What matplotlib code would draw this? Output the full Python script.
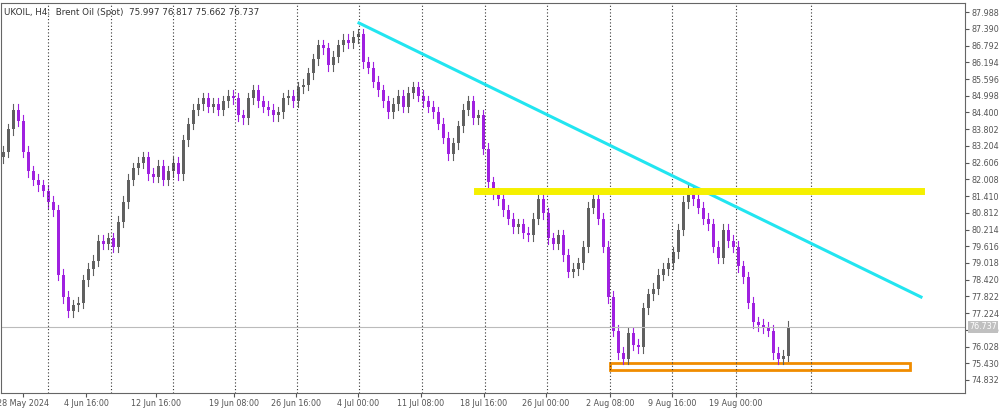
import matplotlib
matplotlib.use("Agg")
import matplotlib.pyplot as plt
from matplotlib.patches import Rectangle

closes = [83.0,83.8,84.5,84.1,83.0,82.3,82.0,81.8,81.6,81.2,80.9,78.6,77.8,77.3,77.5,77.6,78.4,78.8,79.1,79.8,
79.7,79.9,79.6,80.5,81.2,82.0,82.4,82.6,82.8,82.2,82.1,82.5,82.0,82.3,82.6,82.2,83.4,84.0,84.5,84.7,
84.9,84.6,84.7,84.5,84.8,85.0,84.9,84.3,84.2,84.9,85.2,84.8,84.6,84.5,84.3,84.4,84.9,85.0,84.8,85.3,
85.4,85.8,86.3,86.8,86.7,86.1,86.4,86.8,87.0,86.9,87.1,87.2,86.2,86.0,85.5,85.2,84.8,84.4,84.7,85.0,
84.6,85.1,85.3,85.0,84.8,84.6,84.4,84.0,83.5,82.9,83.3,83.9,84.5,84.8,84.2,84.3,83.1,81.9,81.5,81.3,
80.9,80.6,80.3,80.4,80.1,80.0,80.6,81.3,80.8,79.9,79.7,80.0,79.3,78.7,78.8,79.0,79.6,81.0,81.3,80.6,
79.6,77.8,76.6,75.8,75.6,76.5,76.1,76.0,77.4,77.9,78.1,78.6,78.8,79.0,79.4,80.2,81.2,81.6,81.3,81.0,
80.6,80.4,79.6,79.2,80.2,79.8,79.6,78.9,78.5,77.6,76.9,76.8,76.7,76.6,75.8,75.6,75.7,76.737]
first_open = 82.8
yticks = [74.832,75.430,76.028,76.626,77.224,77.822,78.420,79.018,79.616,80.214,80.812,81.410,82.008,82.606,
          83.204,83.802,84.400,84.998,85.596,86.194,86.792,87.390,87.988]
xlabels = ["28 May 2024","4 Jun 16:00","12 Jun 16:00","19 Jun 08:00","26 Jun 16:00","4 Jul 00:00",
           "11 Jul 08:00","18 Jul 16:00","26 Jul 00:00","2 Aug 08:00","9 Aug 16:00","19 Aug 00:00"]
xlabel_pos = [22,85,155,233,295,357,420,483,545,609,671,735]
grid_pos = [47,110,172,234,296,358,421,484,546,609,671,735,810]
last_price = 76.737

fig = plt.figure(figsize=(10,4.08), dpi=100)
ax = fig.add_axes([0.001,0.037,0.964,0.956])
ax.set_xlim(0,964)
ax.set_ylim(74.37,88.32)
opens = [first_open]+closes[:-1]
for i,(o,c) in enumerate(zip(opens,closes)):
    x = 2 + i*5
    col = '#606060' if c>=o else '#a020e0'
    hi = max(o,c)+0.2; lo = min(o,c)-0.2
    ax.plot([x,x],[lo,hi],color=col,lw=0.8)
    ax.add_patch(Rectangle((x-1.5,min(o,c)),3,max(abs(c-o),0.03),color=col,lw=0))
for g in grid_pos:
    ax.axvline(g,color='#333333',lw=0.8,ls=(0,(1,2)))
ax.axhline(last_price,color='#bbbbbb',lw=0.8)
ax.plot([358,920],[87.6,77.8],color='#22e5f0',lw=2.2)
ax.plot([476,920],[81.59,81.59],color='#f5f000',lw=5)
ax.add_patch(Rectangle((609,75.19),300,0.25,fill=False,ec='#f08c00',lw=2))
ax.yaxis.tick_right()
ax.set_yticks(yticks)
ax.set_yticklabels([f"{v:.3f}" for v in yticks],fontsize=5.8,color='#333333')
ax.set_xticks(xlabel_pos)
ax.set_xticklabels(xlabels,fontsize=5.8,color='#333333')
ax.tick_params(length=3,pad=1.5,colors='#555555')
for s in ax.spines.values(): s.set_color('#666666')
ax.text(968,last_price,f"{last_price:.3f}",transform=ax.transData,fontsize=5.8,color='white',
        va='center',bbox=dict(fc='#c0c0c0',ec='none',pad=1),clip_on=False)
ax.text(3,88.15,"UKOIL, H4:  Brent Oil (Spot)  75.997 76.817 75.662 76.737",fontsize=6.3,color='#333333',va='top')
fig.savefig("out.png",dpi=100)
